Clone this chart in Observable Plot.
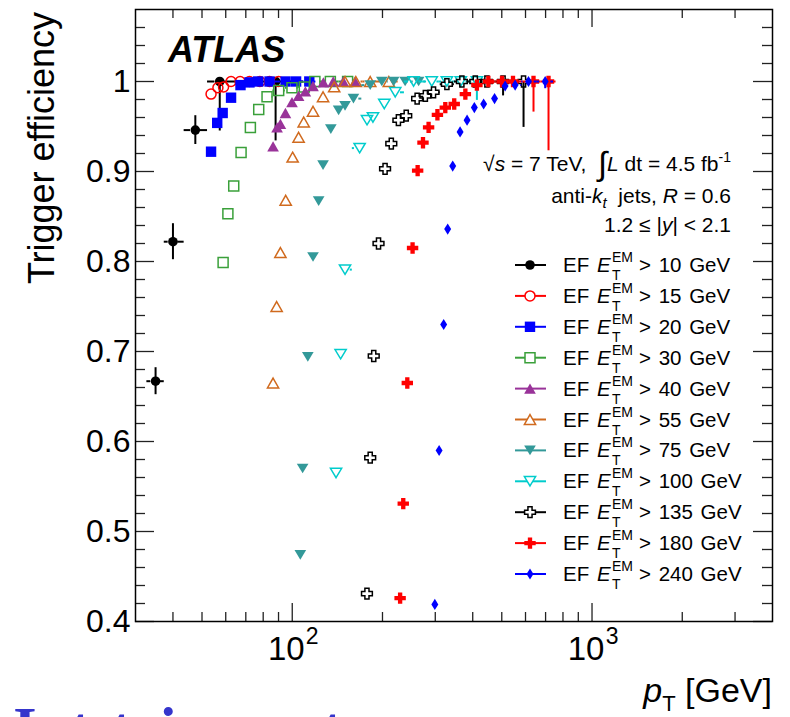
<!DOCTYPE html>
<html><head><meta charset="utf-8">
<script src="https://cdn.jsdelivr.net/npm/d3@7"></script>
<script src="https://cdn.jsdelivr.net/npm/@observablehq/plot@0.6"></script>
<style>body{margin:0;background:#fff;} svg{display:block;}</style>
</head><body><div id="chart"></div>
<script>
// ---------------- data ----------------
const seriesThresholds = ["10","15","20","30","40","55","75","100","135","180","240"];

const ef10Pt  = [35, 40, 47.5, 57.3, 88];
const ef10Eff = [0.667, 0.822, 0.946, 1.0, 1.0];

const ef15Pt  = [53.6, 56.5, 59, 62.5, 67, 72, 78, 84, 90];
const ef15Eff = [0.986, 0.993, 0.994, 1.0, 1.0, 1.0, 1.0, 1.0, 1.0];

const ef20Pt  = [53.6, 56.2, 58.6, 62.5, 67.2, 72, 77, 84, 95, 103, 114];
const ef20Eff = [0.922, 0.954, 0.965, 0.982, 0.996, 0.999, 1, 1, 1, 1, 1];

const ef30Pt  = [58.8, 61, 63.8, 67.5, 72.5, 77.3, 82.4, 90.1, 99.8, 109.7, 119, 134, 153];
const ef30Eff = [0.799, 0.853, 0.884, 0.921, 0.949, 0.969, 0.983, 0.990, 0.993, 0.994, 1, 1, 1];

const ef40Pt  = [86.3, 89, 91.3, 94.9, 99.8, 105, 110.6, 117.3, 127, 137, 148, 162];
const ef40Eff = [0.928, 0.949, 0.953, 0.965, 0.977, 0.984, 0.989, 0.995, 0.999, 1, 1, 1];

const ef55Pt  = [86.3, 88.7, 91.3, 95.1, 100.3, 105, 109.2, 117.3, 126.7, 138, 150, 163, 182, 210];
const ef55Eff = [0.665, 0.750, 0.810, 0.868, 0.916, 0.938, 0.955, 0.967, 0.983, 0.994, 1, 1, 1, 1];

const ef75Pt  = [106.4, 108.3, 112.7, 117.3, 122.5, 126.7, 134.5, 142.8, 150, 160, 182, 199, 218, 238, 264];
const ef75Eff = [0.474, 0.570, 0.694, 0.805, 0.867, 0.907, 0.947, 0.968, 0.973, 0.981, 0.996, 1, 1, 1, 1];

const ef100Pt  = [140, 145, 150, 167.8, 177.6, 185.9, 202.8, 220.6, 254, 292, 328, 365, 413];
const ef100Eff = [0.565, 0.697, 0.791, 0.926, 0.957, 0.960, 0.975, 0.988, 1, 1, 1, 1, 1];

const ef135Pt  = [177.5, 182, 187, 194, 204, 214, 226, 240, 261, 278, 296, 328, 368, 408, 446, 505, 591];
const ef135Eff = [0.431, 0.582, 0.695, 0.820, 0.903, 0.931, 0.957, 0.962, 0.981, 0.984, 0.988, 0.997, 1, 1, 1, 1, 1];

const ef180Pt  = [229, 234.6, 242, 252, 262, 273, 285, 305, 324, 347, 378, 413, 451, 501, 545, 638, 716];
const ef180Eff = [0.426, 0.531, 0.665, 0.815, 0.901, 0.932, 0.949, 0.963, 0.971, 0.975, 0.986, 0.996, 1, 1, 1, 1, 1];

const ef240Pt  = [299, 309, 320, 330, 343, 363, 383, 405, 435, 473, 513, 554, 614, 698];
const ef240Eff = [0.419, 0.590, 0.730, 0.836, 0.906, 0.944, 0.957, 0.971, 0.975, 0.981, 0.995, 0.996, 1, 1];

// visible vertical (efficiency) error bars
const vErrSeries = [0, 0, 0, 0, 0, 7, 8, 8, 9, 9, 10];
const vErrPt     = [35, 40, 47.5, 57.3, 88, 413, 505, 591, 638, 716, 698];
const vErrLow    = [0.652, 0.802, 0.930, 0.945, 0.934, 0.979, 0.984, 0.949, 0.966, 0.923, 0.992];
const vErrHigh   = [0.682, 0.842, 0.962, 1.0, 1.0, 1.0, 1.0, 1.0, 1.0, 1.0, 1.0];

// axis ticks
const yMajorTicks = [0.4, 0.5, 0.6, 0.7, 0.8, 0.9, 1.0];
const yMinorTicks = [0.42,0.44,0.46,0.48,0.52,0.54,0.56,0.58,0.62,0.64,0.66,0.68,0.72,0.74,0.76,0.78,0.82,0.84,0.86,0.88,0.92,0.94,0.96,0.98,1.02,1.04,1.06];
const xMajorTicks = [100, 1000];
const xMinorTicks = [40,50,60,70,80,90,200,300,400,500,600,700,800,900,2000,3000];
const xTickBase = ["10", "10"];
const xTickExp  = ["2", "3"];

// ---------------- styles ----------------
const FONT = "'Liberation Sans', Arial, Helvetica, sans-serif";
const S = (f) => ({draw(c, size){ f(c, Math.sqrt(size / Math.PI)); }});
const symSquare = S((c,r)=>{c.moveTo(-r,-r);c.lineTo(r,-r);c.lineTo(r,r);c.lineTo(-r,r);c.closePath();});
const symTriUp = S((c,r)=>{const w=r*1.08,h=r*0.95;c.moveTo(0,-h);c.lineTo(w,h);c.lineTo(-w,h);c.closePath();});
const symTriDown = S((c,r)=>{const w=r*1.08,h=r*0.9;c.moveTo(0,h);c.lineTo(w,-h);c.lineTo(-w,-h);c.closePath();});
const symCross = S((c,r)=>{const t=r*0.38;c.moveTo(-t,-r);c.lineTo(t,-r);c.lineTo(t,-t);c.lineTo(r,-t);c.lineTo(r,t);c.lineTo(t,t);c.lineTo(t,r);c.lineTo(-t,r);c.lineTo(-t,t);c.lineTo(-r,t);c.lineTo(-r,-t);c.lineTo(-t,-t);c.closePath();});
const symDiamond = S((c,r)=>{const w=r*0.62;c.moveTo(0,-r);c.lineTo(w,0);c.lineTo(0,r);c.lineTo(-w,0);c.closePath();});
const symCircle = d3.symbolCircle;

const colors  = ["#000000","#ff0000","#0000ff","#3aa03a","#993399","#d06a1e","#339999","#00cccc","#000000","#ff0000","#0000ff"];
const symbols = [symCircle, symCircle, symSquare, symSquare, symTriUp, symTriUp, symTriDown, symTriDown, symCross, symCross, symDiamond];
const filled  = [true, false, true, false, true, false, true, false, false, true, true];
const radii   = [4.8, 5.0, 5.2, 5.0, 5.4, 5.2, 5.4, 5.2, 5.4, 5.7, 5.6];

// ---------------- layout ----------------
const W = 790, H = 717, mL = 135, mR = 18, mT = 9, mB = 96;
const plotW = W - mL - mR, plotH = H - mT - mB;
const xDomain = [30, 4000];
const pxPerDecade = plotW / Math.log10(xDomain[1] / xDomain[0]);

// ---------------- build table ----------------
const ptArrays  = [ef10Pt, ef15Pt, ef20Pt, ef30Pt, ef40Pt, ef55Pt, ef75Pt, ef100Pt, ef135Pt, ef180Pt, ef240Pt];
const effArrays = [ef10Eff, ef15Eff, ef20Eff, ef30Eff, ef40Eff, ef55Eff, ef75Eff, ef100Eff, ef135Eff, ef180Eff, ef240Eff];
const rows = [];
ptArrays.forEach((pts, s) => pts.forEach((p, i) => {
  const lo = i > 0 ? Math.sqrt(pts[i-1]*p) : p*Math.sqrt(p/pts[i+1]);
  const hi = i < pts.length-1 ? Math.sqrt(p*pts[i+1]) : p*Math.sqrt(p/pts[i-1]);
  rows.push({s, pt: p, eff: effArrays[s][i], lo, hi,
    leftPx: pxPerDecade * Math.log10(p / lo), rightPx: pxPerDecade * Math.log10(hi / p)});
}));
const vErr = vErrPt.map((p, i) => ({s: vErrSeries[i], pt: p, low: vErrLow[i], high: vErrHigh[i]}));

const marks = [];
for (let s = 0; s < ptArrays.length; s++) {
  const d = rows.filter(r => r.s === s);
  const r = radii[s];
  // horizontal error bars, not drawn inside the marker (ROOT style)
  marks.push(Plot.ruleY(d.filter(q => q.leftPx > r + 0.5), {y: "eff", x1: "lo", x2: "pt", insetRight: r, stroke: colors[s], strokeWidth: 2}));
  marks.push(Plot.ruleY(d.filter(q => q.rightPx > r + 0.5), {y: "eff", x1: "pt", x2: "hi", insetLeft: r, stroke: colors[s], strokeWidth: 2}));
  const ve = vErr.filter(q => q.s === s);
  if (ve.length) marks.push(Plot.ruleX(ve, {x: "pt", y1: "low", y2: "high", stroke: colors[s], strokeWidth: 2}));
  marks.push(Plot.dot(d, {x: "pt", y: "eff", symbol: symbols[s], r,
    fill: filled[s] ? colors[s] : "none", stroke: filled[s] ? "none" : colors[s], strokeWidth: 1.5}));
}

const tickStyle = {stroke: "#222", strokeWidth: 1.3};
const chart = Plot.plot({
  width: W, height: H, marginLeft: mL, marginRight: mR, marginTop: mT, marginBottom: mB,
  style: {fontFamily: FONT, background: "white", color: "black"},
  x: {type: "log", domain: xDomain, axis: null},
  y: {domain: [0.4, 1.08], axis: null},
  marks: [
    ...marks,
    Plot.tickY(yMajorTicks, {y: d => d, insetRight: plotW - 19, ...tickStyle}),
    Plot.tickY(yMinorTicks, {y: d => d, insetRight: plotW - 10, ...tickStyle}),
    Plot.tickY(yMajorTicks, {y: d => d, insetLeft: plotW - 19, ...tickStyle}),
    Plot.tickY(yMinorTicks, {y: d => d, insetLeft: plotW - 10, ...tickStyle}),
    Plot.tickX(xMajorTicks, {x: d => d, insetTop: plotH - 18, ...tickStyle}),
    Plot.tickX(xMinorTicks, {x: d => d, insetTop: plotH - 9, ...tickStyle}),
    Plot.tickX(xMajorTicks, {x: d => d, insetBottom: plotH - 18, ...tickStyle}),
    Plot.tickX(xMinorTicks, {x: d => d, insetBottom: plotH - 9, ...tickStyle}),
    Plot.frame({stroke: "black", strokeWidth: 1.5}),
    Plot.axisY(yMajorTicks, {tickSize: 0, tickPadding: 5, fontSize: 32, label: null,
      tickFormat: d => d === 1 ? "1" : d.toFixed(1)}),
    Plot.text(xMajorTicks, {x: d => d, text: (d, i) => xTickBase[i], frameAnchor: "bottom",
      dy: 38, dx: -6, fontSize: 33, fill: "black"}),
    Plot.text(xMajorTicks, {x: d => d, text: (d, i) => xTickExp[i], frameAnchor: "bottom",
      dy: 22, dx: 20, fontSize: 23, fill: "black"})
  ]
});
document.getElementById("chart").appendChild(chart);

// ---------------- annotations & legend ----------------
const svg = d3.select(chart);
const g = svg.append("g").attr("font-family", FONT).attr("fill", "black").style("white-space", "pre");

function rich(x, y, parts, anchor, size) {
  const t = g.append("text").attr("x", x).attr("y", y).attr("text-anchor", anchor).attr("font-size", size);
  parts.forEach(p => {
    const ts = t.append("tspan").text(p.t);
    if (p.i) ts.attr("font-style", "italic");
    if (p.b) ts.attr("font-weight", "bold");
    if (p.dy) ts.attr("dy", p.dy);
    if (p.dx) ts.attr("dx", p.dx);
    if (p.s) ts.attr("font-size", p.s);
    if (p.ws) ts.attr("word-spacing", p.ws);
    if (p.x != null) ts.attr("x", p.x);
    if (p.y != null) ts.attr("y", p.y);
  });
  return t;
}

// y axis title
g.append("text").attr("transform", "translate(54,12) rotate(-90)").attr("text-anchor", "end")
  .attr("font-size", 36).text("Trigger efficiency");
// x axis title
rich(772, 702, [{t: "p", i: true}, {t: "T", s: 22, dy: 9}, {t: " [GeV]", dy: -9}], "end", 34);
// ATLAS
rich(168, 62, [{t: "ATLAS", i: true, b: true}], "start", 36);

// info text
rich(731, 171, [
  {t: "\u221A"}, {t: "s", i: true}, {t: " = 7 TeV,  "},
  {t: "\u222B", s: 33, dy: 4}, {t: "L", i: true, dy: -4}, {t: " dt = 4.5 fb"},
  {t: "-1", s: 14, dy: -9}
], "end", 21);
rich(731, 203, [
  {t: "anti-"}, {t: "k", i: true}, {t: "t", i: true, s: 15, dy: 5}, {t: "  jets, ", dy: -5},
  {t: "R", i: true}, {t: " = 0.6"}
], "end", 21);
rich(731, 232, [{t: "1.2 \u2264 |"}, {t: "y", i: true}, {t: "| < 2.1"}], "end", 21);

// legend
seriesThresholds.forEach((th, s) => {
  const cy = 265 + 30.9 * s;
  g.append("line").attr("x1", 515).attr("x2", 546).attr("y1", cy).attr("y2", cy)
    .attr("stroke", colors[s]).attr("stroke-width", 2);
  g.append("path").attr("transform", `translate(530,${cy})`)
    .attr("d", d3.symbol(symbols[s], radii[s] * radii[s] * Math.PI)())
    .attr("fill", filled[s] ? colors[s] : "white")
    .attr("stroke", filled[s] ? "none" : colors[s]).attr("stroke-width", 1.5);
  const b = cy + 7;
  rich(563, b, [
    {t: "EF "}, {t: "E", i: true, x: 597},
    {t: "EM", s: 14, x: 612, y: b - 10},
    {t: "T", s: 14, x: 612, y: b + 8},
    {t: "> " + th + " GeV", x: 639, y: b, ws: 2}
  ], "start", 20.5);
});

// partially visible text below the figure
const blue = svg.append("g").attr("font-family", "'Liberation Serif', 'DejaVu Serif', serif")
  .attr("font-weight", "bold").attr("font-size", 60).attr("fill", "#3535cc");
[["I", 25], ["t", 80], ["t", 121], ["i", 168], ["t", 332]].forEach(([ch, x]) =>
  blue.append("text").attr("x", x).attr("y", 748).text(ch));
</script>
</body></html>
